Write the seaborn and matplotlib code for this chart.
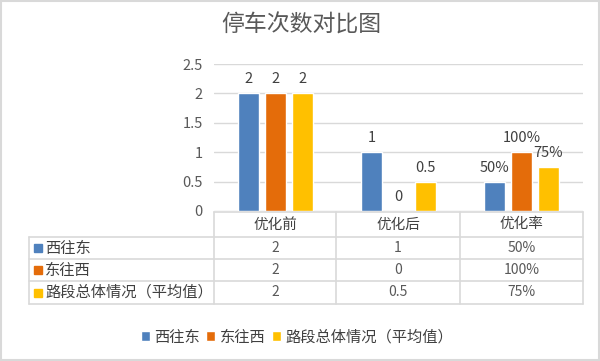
import matplotlib
matplotlib.use("Agg")
import matplotlib.pyplot as plt
from matplotlib.patches import Rectangle
from matplotlib.lines import Line2D
import seaborn as sns
import pandas as pd

# ---- data ----
categories = ["优化前", "优化后", "优化率"]
series_names = ["西往东", "东往西", "路段总体情况（平均值）"]
west_east = [2, 1, 0.5]
east_west = [2, 0, 1.0]
overall = [2, 0.5, 0.75]
colors = ["#4F81BD", "#E46C0A", "#FFC000"]
yticks = [0, 0.5, 1, 1.5, 2, 2.5]
title = "停车次数对比图"

series_values = [west_east, east_west, overall]

def fmt(v, cat):
    if cat == "优化率":
        return f"{v:.0%}"
    return f"{v:g}"

rows = []
for name, vals in zip(series_names, series_values):
    for c, v in zip(categories, vals):
        rows.append({"cat": c, "series": name, "val": v})
df = pd.DataFrame(rows)

sns.set_style("white")
plt.rcParams["font.family"] = ["Noto Sans CJK SC", "DejaVu Sans"]

W, H = 600, 361
fig = plt.figure(figsize=(6, 3.61), dpi=100)

def fx(x):
    return x / W

def fy(y):
    return 1 - y / H

ax_l, ax_r, ax_t, ax_b = 214, 583, 64, 211
ax = fig.add_axes([fx(ax_l), fy(ax_b), (ax_r - ax_l) / W, (ax_b - ax_t) / H])

sns.barplot(data=df, x="cat", y="val", hue="series", order=categories,
            hue_order=series_names, palette=colors, width=0.66, gap=0.2,
            ax=ax, saturation=1, legend=True)

ax.set_ylim(0, 2.5)
ax.set_xlim(-0.5, 2.5)
ax.set_yticks(yticks)
ax.set_yticklabels([f"{t:g}" for t in yticks], color="#595959", fontsize=10.5)
ax.tick_params(axis="y", length=0, pad=8)
ax.set_xticks([])
ax.set_xlabel("")
ax.set_ylabel("")
ax.grid(axis="y", color="#D9D9D9", linewidth=1)
ax.set_axisbelow(True)
for s in ax.spines.values():
    s.set_visible(False)

for cont, vals in zip(ax.containers, series_values):
    ax.bar_label(cont, labels=[fmt(v, c) for v, c in zip(vals, categories)],
                 padding=5, fontsize=10.5, color="#404040")

handles, labels = ax.get_legend_handles_labels()
ax.get_legend().remove()

# ---- data table ----
line_c = "#D9D9D9"
col_edges = [214, 336, 460, 583]
row_edges = [212, 237, 259, 281, 304]
left = 29

def hline(x0, x1, y):
    fig.add_artist(Line2D([fx(x0), fx(x1)], [fy(y), fy(y)], color=line_c, lw=1.2))

def vline(x, y0, y1):
    fig.add_artist(Line2D([fx(x), fx(x)], [fy(y0), fy(y1)], color=line_c, lw=1.2))

hline(col_edges[0], col_edges[-1], row_edges[0])
for y in row_edges[1:]:
    hline(left, col_edges[-1], y)
for x in col_edges:
    vline(x, row_edges[0], row_edges[-1])
vline(left, row_edges[1], row_edges[-1])

for i, c in enumerate(categories):
    cx = (col_edges[i] + col_edges[i + 1]) / 2
    cy = (row_edges[0] + row_edges[1]) / 2
    fig.text(fx(cx), fy(cy), c, ha="center", va="center", fontsize=10.5, color="#404040")

for r, (name, vals, col) in enumerate(zip(series_names, series_values, colors)):
    cy = (row_edges[r + 1] + row_edges[r + 2]) / 2
    fig.add_artist(Rectangle((fx(34), fy(cy + 4)), 8 / W, 8 / H, color=col,
                             transform=fig.transFigure))
    fig.text(fx(45), fy(cy), name, ha="left", va="center", fontsize=11, color="#404040")
    for i, (v, c) in enumerate(zip(vals, categories)):
        cx = (col_edges[i] + col_edges[i + 1]) / 2
        fig.text(fx(cx), fy(cy), fmt(v, c), ha="center", va="center",
                 fontsize=10, color="#595959")

# ---- legend ----
fig.legend(handles, labels, loc="center", bbox_to_anchor=(fx(297), fy(337)),
           ncol=3, frameon=False, fontsize=11, handlelength=0.6, handleheight=0.6,
           handletextpad=0.3, columnspacing=0.4, labelcolor="#404040")

# ---- title ----
fig.text(fx(301), fy(25), title, ha="center", va="center", fontsize=16.5, color="#595959")

# ---- border ----
fig.add_artist(Rectangle((0.002, 0.003), 0.996, 0.994, fill=False, edgecolor="#D9D9D9",
                         lw=1.5, transform=fig.transFigure))

fig.savefig("out.png", dpi=100)
